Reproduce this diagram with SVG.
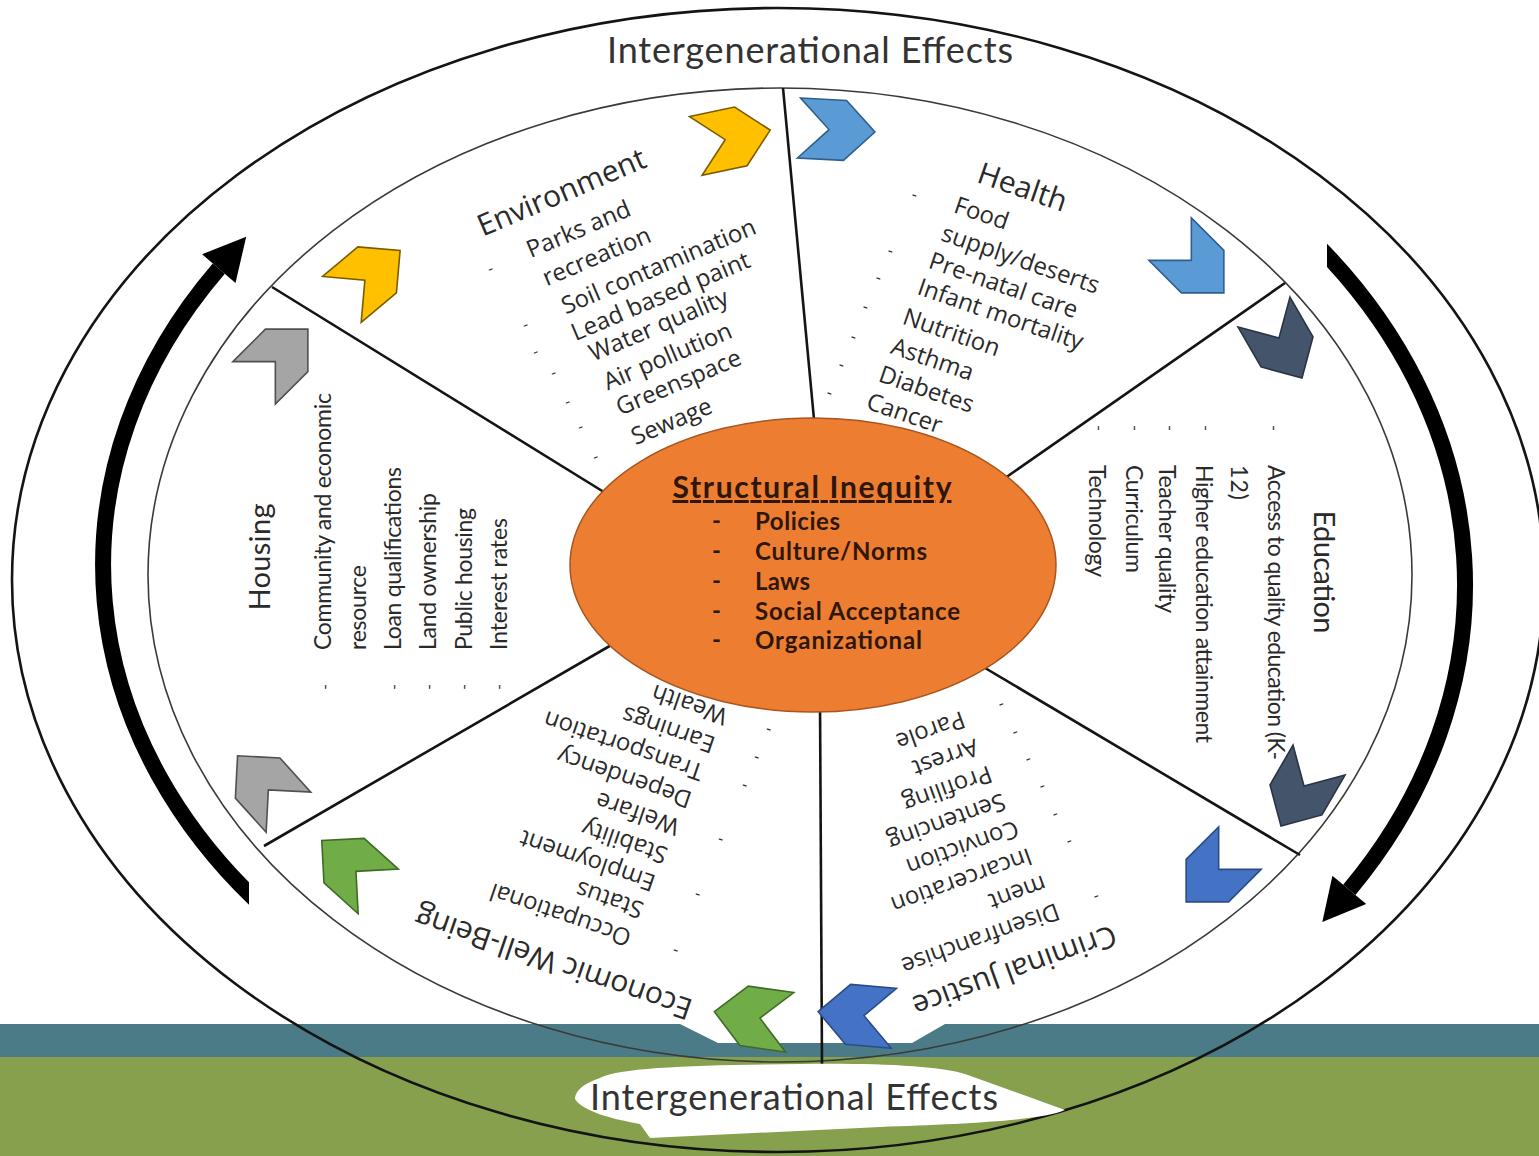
<svg xmlns="http://www.w3.org/2000/svg" width="1539" height="1156" viewBox="0 0 1539 1156">
<defs>
<style>
.ring{fill:none;stroke:#141414;stroke-width:2.6}
.inner{fill:none;stroke:#3a3a3a;stroke-width:1.6}
.spoke{fill:none;stroke:#141414;stroke-width:2.6}
.arc{fill:none;stroke:#000;stroke-width:16}
.ah{fill:#000}
.cy{fill:#FFC000;stroke:#7a5c00;stroke-width:1.6}
.cb{fill:#5B9BD5;stroke:#2E5F8E;stroke-width:1.6}
.cs{fill:#44546A;stroke:#2a3444;stroke-width:1.6}
.cr{fill:#4472C4;stroke:#2B4C8A;stroke-width:1.6}
.cg{fill:#70AD47;stroke:#3F6B25;stroke-width:1.6}
.ck{fill:#A5A5A5;stroke:#505050;stroke-width:1.6}
.h{font-family:'Open Sans','Liberation Sans',sans-serif;font-size:30px;fill:#2a2a2a;text-anchor:middle;dominant-baseline:central}
.i{font-family:'Open Sans','Liberation Sans',sans-serif;font-size:24px;fill:#2a2a2a;text-anchor:middle;dominant-baseline:central}
.d{font-family:'Open Sans','Liberation Sans',sans-serif;font-size:16px;fill:#333;text-anchor:middle;dominant-baseline:central}
.vh{font-family:Lato,'Liberation Sans',sans-serif;font-size:29px;fill:#2a2a2a;text-anchor:middle;dominant-baseline:central}
.vi{font-family:Lato,'Liberation Sans',sans-serif;font-size:23px;fill:#2a2a2a;dominant-baseline:central}
.ie{font-family:Lato,'Liberation Sans',sans-serif;font-size:36px;fill:#333;text-anchor:middle}
.ct{font-family:Lato,'Liberation Sans',sans-serif;font-weight:700;fill:#2e1709}
</style>
<polygon id="chev" points="-38,-30 8,-30 38,0 8,30 -38,30 -8,0"/>
<clipPath id="clipL"><rect x="0" y="0" width="249" height="1156"/></clipPath>
<clipPath id="clipR"><rect x="1327" y="0" width="212" height="1156"/></clipPath>
</defs>

<rect width="1539" height="1156" fill="#fff"/>

<g id="bands">
<rect x="0" y="1024" width="1539" height="34" fill="#4a7b86"/>
<rect x="0" y="1057" width="1539" height="99" fill="#86a04d"/>
<polygon points="680,1024 945,1024 912,1043 718,1043" fill="#fff"/>
</g>

<g id="frame">
<ellipse class="ring" cx="778" cy="580" rx="766" ry="572"/>
<ellipse class="inner" cx="780" cy="575" rx="632" ry="487"/>
</g>

<g id="connectors">
<line class="spoke" x1="783" y1="88" x2="815" y2="430"/>
<line class="spoke" x1="272" y1="287" x2="620" y2="502"/>
<line class="spoke" x1="1285" y1="283" x2="995" y2="485"/>
<line class="spoke" x1="264" y1="846" x2="620" y2="640"/>
<line class="spoke" x1="1300" y1="855" x2="980" y2="665"/>
<line class="spoke" x1="820" y1="700" x2="822" y2="1066"/>
<path class="arc" clip-path="url(#clipL)" d="M 277 919.6 A 677 530 0 0 1 218.8 268.6"/>
<polygon class="ah" points="246.2,236.8 235.5,283 202.1,254.2"/>
<path class="arc" clip-path="url(#clipR)" d="M 1306.6 234.7 A 677 545 0 0 1 1349.3 889.8"/>
<polygon class="ah" points="1322.3,922 1366.2,903.9 1332.4,875.7"/>
</g>

<g id="center">
<ellipse cx="813" cy="565" rx="243" ry="147" fill="#ED7D31" stroke="#a85520" stroke-width="1.5"/>
<text class="ct" x="812" y="498" font-size="30" text-anchor="middle" text-decoration="underline" textLength="279">Structural Inequity</text>
<g class="ct" font-size="24">
<text x="712" y="529">-</text><text x="755" y="530" textLength="85">Policies</text>
<text x="712" y="559">-</text><text x="755" y="560" textLength="172">Culture/Norms</text>
<text x="712" y="589">-</text><text x="755" y="590" textLength="55">Laws</text>
<text x="712" y="619">-</text><text x="755" y="620" textLength="205">Social Acceptance</text>
<text x="712" y="648">-</text><text x="755" y="649" textLength="167">Organizational</text>
</g>
</g>

<g id="environment">
<use href="#chev" class="cy" transform="translate(733,138) rotate(-12)"/>
<use href="#chev" class="cy" transform="translate(371,275) rotate(-40)"/>
<text class="h" transform="translate(561,191) rotate(-23)">Environment</text>
<text class="i" transform="translate(578,228) rotate(-23)">Parks and</text>
<text class="i" transform="translate(596,255) rotate(-23)">recreation</text>
<text class="i" transform="translate(658,265) rotate(-23)">Soil contamination</text>
<text class="i" transform="translate(660,295) rotate(-23)">Lead based paint</text>
<text class="i" transform="translate(658,324) rotate(-23)">Water quality</text>
<text class="i" transform="translate(667,355) rotate(-23)">Air pollution</text>
<text class="i" transform="translate(678,381) rotate(-23)">Greenspace</text>
<text class="i" transform="translate(671,420) rotate(-23)">Sewage</text>
<text class="d" transform="translate(490,268) rotate(-23)">-</text>
<text class="d" transform="translate(525,324) rotate(-23)">-</text>
<text class="d" transform="translate(535,351) rotate(-23)">-</text>
<text class="d" transform="translate(553,372) rotate(-23)">-</text>
<text class="d" transform="translate(567,401) rotate(-23)">-</text>
<text class="d" transform="translate(580,426) rotate(-23)">-</text>
<text class="d" transform="translate(595,456) rotate(-23)">-</text>
</g>

<g id="health">
<use href="#chev" class="cb" transform="translate(837,130) rotate(3)"/>
<use href="#chev" class="cb" transform="translate(1197,266) rotate(45)"/>
<text class="h" transform="translate(1023,186) rotate(19)">Health</text>
<text class="i" transform="translate(982,212) rotate(19)">Food</text>
<text class="i" transform="translate(1021,258) rotate(19)">supply/deserts</text>
<text class="i" transform="translate(1004,284) rotate(19)">Pre-natal care</text>
<text class="i" transform="translate(1001,313) rotate(19)">Infant mortality</text>
<text class="i" transform="translate(952,331) rotate(19)">Nutrition</text>
<text class="i" transform="translate(933,358) rotate(19)">Asthma</text>
<text class="i" transform="translate(927,388) rotate(19)">Diabetes</text>
<text class="i" transform="translate(905,412) rotate(19)">Cancer</text>
<text class="d" transform="translate(915,194) rotate(19)">-</text>
<text class="d" transform="translate(891,250) rotate(19)">-</text>
<text class="d" transform="translate(879,277) rotate(19)">-</text>
<text class="d" transform="translate(866,306) rotate(19)">-</text>
<text class="d" transform="translate(854,336) rotate(19)">-</text>
<text class="d" transform="translate(842,364) rotate(19)">-</text>
<text class="d" transform="translate(830,392) rotate(19)">-</text>
</g>

<g id="education">
<use href="#chev" class="cs" transform="translate(1283,345) rotate(60)"/>
<use href="#chev" class="cs" transform="translate(1300,793) rotate(120)"/>
<text class="vh" transform="translate(1325,572) rotate(90)" textLength="123">Education</text>
<text class="vi" transform="translate(1277,465) rotate(90)" textLength="295">Access to quality education (K-</text>
<text class="vi" transform="translate(1240,465) rotate(90)" textLength="35">12)</text>
<text class="vi" transform="translate(1205,465) rotate(90)" textLength="278">Higher education attainment</text>
<text class="vi" transform="translate(1168,465) rotate(90)" textLength="148">Teacher quality</text>
<text class="vi" transform="translate(1135,465) rotate(90)" textLength="108">Curriculum</text>
<text class="vi" transform="translate(1098,465) rotate(90)" textLength="112">Technology</text>
<text class="d" transform="translate(1275,428) rotate(90)">-</text>
<text class="d" transform="translate(1207,428) rotate(90)">-</text>
<text class="d" transform="translate(1171,428) rotate(90)">-</text>
<text class="d" transform="translate(1136,428) rotate(90)">-</text>
<text class="d" transform="translate(1100,428) rotate(90)">-</text>
</g>

<g id="criminal-justice">
<use href="#chev" class="cr" transform="translate(1213,875) rotate(135)"/>
<use href="#chev" class="cr" transform="translate(856,1015) rotate(185)"/>
<text class="h" transform="translate(1015,972) rotate(160)">Criminal Justice</text>
<text class="i" transform="translate(981,940) rotate(160)">Disenfranchise</text>
<text class="i" transform="translate(1018,894) rotate(160)">ment</text>
<text class="i" transform="translate(962,882) rotate(160)">Incarceration</text>
<text class="i" transform="translate(963,849) rotate(160)">Conviction</text>
<text class="i" transform="translate(947,823) rotate(160)">Sentencing</text>
<text class="i" transform="translate(948,790) rotate(160)">Profiling</text>
<text class="i" transform="translate(946,759) rotate(160)">Arrest</text>
<text class="i" transform="translate(931,732) rotate(160)">Parole</text>
<text class="d" transform="translate(1097,898) rotate(160)">-</text>
<text class="d" transform="translate(1070,843) rotate(160)">-</text>
<text class="d" transform="translate(1056,816) rotate(160)">-</text>
<text class="d" transform="translate(1043,788) rotate(160)">-</text>
<text class="d" transform="translate(1029,761) rotate(160)">-</text>
<text class="d" transform="translate(1016,734) rotate(160)">-</text>
<text class="d" transform="translate(1002,706) rotate(160)">-</text>
</g>

<g id="economic-well-being">
<use href="#chev" class="cg" transform="translate(752,1017) rotate(188)"/>
<use href="#chev" class="cg" transform="translate(350,866) rotate(-138)"/>
<text class="h" transform="translate(553,964) rotate(199)">Economic Well-Being</text>
<text class="i" transform="translate(560,916) rotate(199)">Occupational</text>
<text class="i" transform="translate(609,901) rotate(199)">Status</text>
<text class="i" transform="translate(587,862) rotate(199)">Employment</text>
<text class="i" transform="translate(624,843) rotate(199)">Stability</text>
<text class="i" transform="translate(637,815) rotate(199)">Welfare</text>
<text class="i" transform="translate(624,779) rotate(199)">Dependency</text>
<text class="i" transform="translate(623,747) rotate(199)">Transportation</text>
<text class="i" transform="translate(668,731) rotate(199)">Earnings</text>
<text class="i" transform="translate(689,706) rotate(199)">Wealth</text>
<text class="d" transform="translate(675,952) rotate(199)">-</text>
<text class="d" transform="translate(697,896) rotate(199)">-</text>
<text class="d" transform="translate(720,841) rotate(199)">-</text>
<text class="d" transform="translate(744,787) rotate(199)">-</text>
<text class="d" transform="translate(756,759) rotate(199)">-</text>
<text class="d" transform="translate(768,731) rotate(199)">-</text>
</g>

<g id="housing">
<use href="#chev" class="ck" transform="translate(263,784) rotate(-132)"/>
<use href="#chev" class="ck" transform="translate(281,356) rotate(-45)"/>
<text class="vh" transform="translate(258,557) rotate(-90)" textLength="107">Housing</text>
<text class="vi" transform="translate(322,650) rotate(-90)" textLength="257">Community and economic</text>
<text class="vi" transform="translate(357,650) rotate(-90)" textLength="85">resource</text>
<text class="vi" transform="translate(392,650) rotate(-90)" textLength="183">Loan qualifications</text>
<text class="vi" transform="translate(427,650) rotate(-90)" textLength="157">Land ownership</text>
<text class="vi" transform="translate(463,650) rotate(-90)" textLength="142">Public housing</text>
<text class="vi" transform="translate(498,650) rotate(-90)" textLength="132">Interest rates</text>
<text class="d" transform="translate(324,687) rotate(-90)">-</text>
<text class="d" transform="translate(393,687) rotate(-90)">-</text>
<text class="d" transform="translate(428,687) rotate(-90)">-</text>
<text class="d" transform="translate(463,687) rotate(-90)">-</text>
<text class="d" transform="translate(498,687) rotate(-90)">-</text>
</g>

<g id="top-label">
<text class="ie" x="810" y="63" textLength="406">Intergenerational Effects</text>
</g>

<g id="bottom-label">
<path d="M 600 1078 C 620 1067 700 1065 800 1064 C 880 1063 940 1066 965 1074 L 1065 1110 C 1040 1121 960 1124 880 1127 L 650 1138 L 640 1124 C 612 1119 582 1111 575 1099 C 575 1090 585 1083 600 1078 Z" fill="#fff"/>
<text class="ie" x="794" y="1110" textLength="408">Intergenerational Effects</text>
</g>
</svg>
